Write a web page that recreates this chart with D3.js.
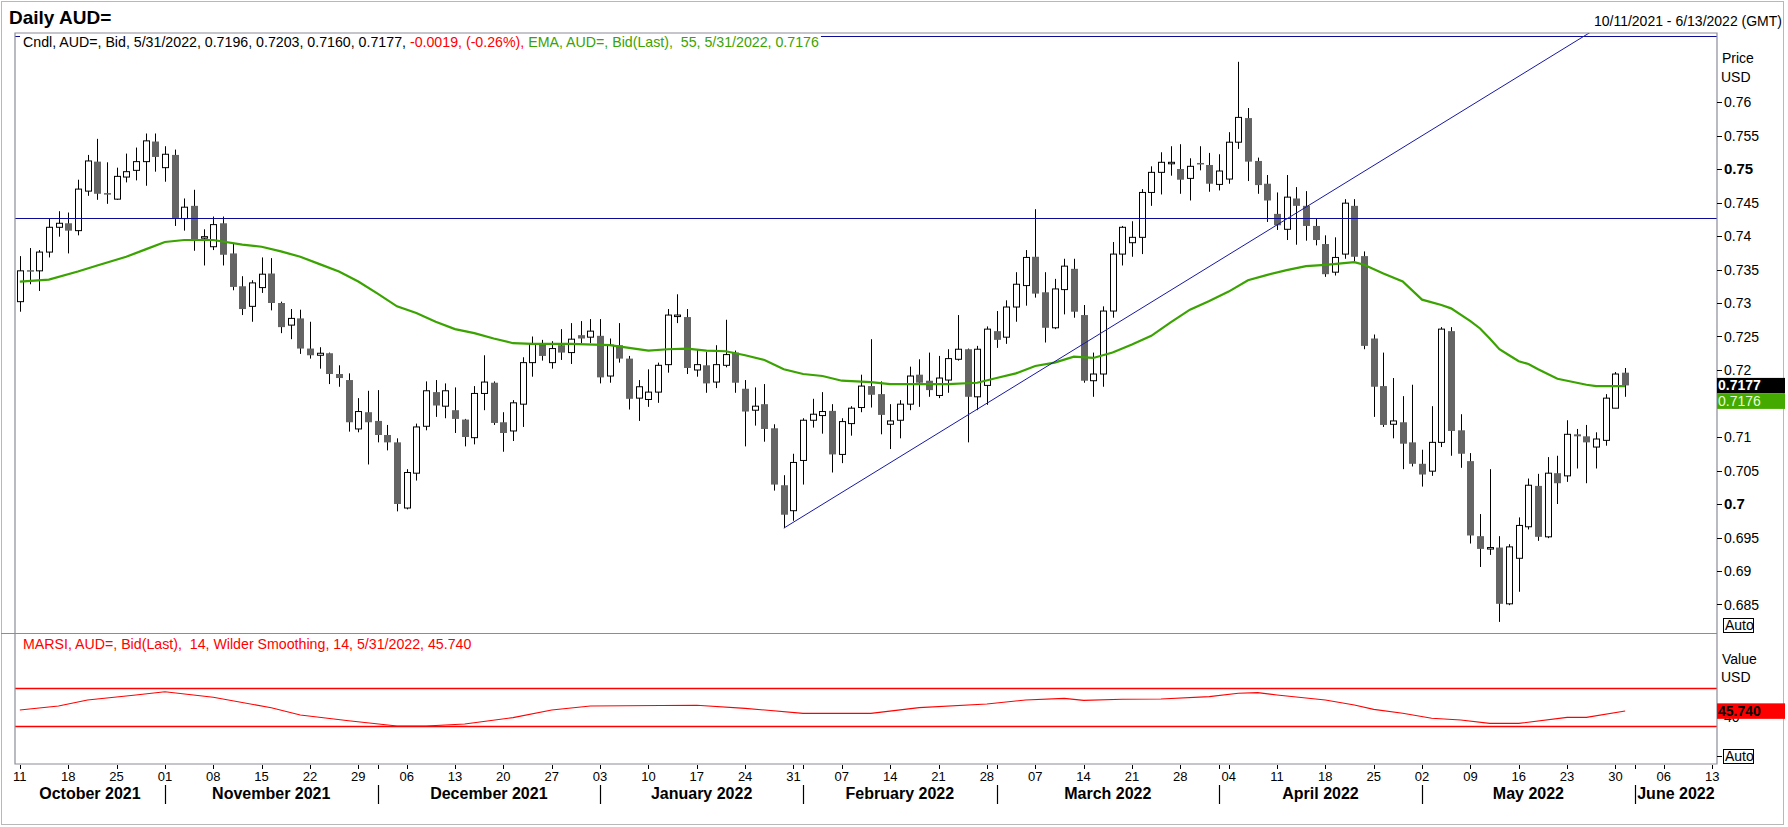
<!DOCTYPE html>
<html>
<head>
<meta charset="utf-8">
<script src="https://cdnjs.cloudflare.com/ajax/libs/d3/7.8.5/d3.min.js"></script>
<style>
body { margin: 0; background: #fff; }
svg { display: block; font-family: "Liberation Sans", Arial, sans-serif; }
text { white-space: pre; }
</style>
</head>
<body>
<svg id="chart" width="1788" height="827"></svg>
<script>
//Start: Data===

//Daily candles, AUD=, one bar per weekday starting 11 Oct 2021
var opens = [0.7302,0.7349,0.7348,0.7376,0.7413,0.7419,0.7408,0.7467,0.7511,0.7464,
  0.7455,0.7488,0.7498,0.7511,0.7541,0.7502,0.7521,0.7426,0.7445,0.7398,
  0.7384,0.7419,0.7374,0.7325,0.7295,0.7323,0.7344,0.7300,0.7267,0.7277,
  0.7232,0.7222,0.7225,0.7194,0.7185,0.7112,0.7137,0.7124,0.7103,0.7092,
  0.6994,0.7046,0.7116,0.7167,0.7146,0.7140,0.7126,0.7099,0.7165,0.7181,
  0.7122,0.7109,0.7149,0.7211,0.7239,0.7211,0.7237,0.7226,0.7252,0.7249,
  0.7251,0.7191,0.7237,0.7217,0.7158,0.7156,0.7167,0.7208,0.7281,0.7279,
  0.7200,0.7207,0.7182,0.7207,0.7226,0.7172,0.7140,0.7149,0.7113,0.7028,
  0.6990,0.7065,0.7125,0.7132,0.7139,0.7074,0.7120,0.7144,0.7176,0.7164,
  0.7119,0.7125,0.7149,0.7193,0.7184,0.7162,0.7185,0.7216,0.7231,0.7160,
  0.7177,0.7258,0.7249,0.7294,0.7326,0.7369,0.7316,0.7263,0.7320,0.7351,
  0.7282,0.7184,0.7194,0.7288,0.7373,0.7390,0.7398,0.7465,0.7495,0.7509,
  0.7500,0.7486,0.7509,0.7506,0.7477,0.7485,0.7540,0.7576,0.7512,0.7478,
  0.7433,0.7410,0.7456,0.7445,0.7415,0.7388,0.7346,0.7373,0.7445,0.7370,
  0.7247,0.7176,0.7119,0.7122,0.7092,0.7060,0.7049,0.7092,0.7258,0.7110,
  0.7064,0.6952,0.6934,0.6935,0.6851,0.6919,0.6966,0.7027,0.6951,0.7046,
  0.7042,0.7104,0.7101,0.7085,0.7095,0.7143,0.7196];

var highs = [0.7370,0.7382,0.7379,0.7426,0.7437,0.7435,0.7484,0.7521,0.7545,0.7510,
  0.7502,0.7523,0.7532,0.7553,0.7553,0.7534,0.7529,0.7456,0.7469,0.7410,
  0.7429,0.7429,0.7389,0.7340,0.7334,0.7368,0.7367,0.7302,0.7291,0.7290,
  0.7272,0.7234,0.7226,0.7207,0.7195,0.7158,0.7169,0.7170,0.7118,0.7098,
  0.7052,0.7120,0.7183,0.7185,0.7180,0.7174,0.7127,0.7176,0.7222,0.7183,
  0.7137,0.7155,0.7219,0.7250,0.7245,0.7243,0.7261,0.7270,0.7273,0.7276,
  0.7276,0.7247,0.7270,0.7221,0.7185,0.7201,0.7211,0.7291,0.7313,0.7291,
  0.7230,0.7227,0.7237,0.7275,0.7229,0.7185,0.7174,0.7179,0.7119,0.7043,
  0.7075,0.7128,0.7157,0.7167,0.7149,0.7128,0.7146,0.7193,0.7246,0.7183,
  0.7149,0.7155,0.7205,0.7216,0.7226,0.7221,0.7231,0.7282,0.7232,0.7236,
  0.7265,0.7288,0.7304,0.7346,0.7379,0.7440,0.7346,0.7336,0.7366,0.7366,
  0.7297,0.7226,0.7295,0.7391,0.7415,0.7422,0.7470,0.7504,0.7525,0.7534,
  0.7537,0.7516,0.7534,0.7524,0.7522,0.7555,0.7660,0.7591,0.7517,0.7491,
  0.7465,0.7491,0.7473,0.7467,0.7426,0.7401,0.7398,0.7455,0.7455,0.7377,
  0.7253,0.7226,0.7188,0.7161,0.7178,0.7081,0.7146,0.7264,0.7264,0.7134,
  0.7076,0.6985,0.7052,0.6952,0.6940,0.6980,0.7038,0.7045,0.7070,0.7072,
  0.7125,0.7112,0.7118,0.7107,0.7164,0.7197,0.7203];

var lows = [0.7287,0.7328,0.7318,0.7368,0.7399,0.7374,0.7401,0.7460,0.7454,0.7448,
  0.7454,0.7480,0.7483,0.7475,0.7496,0.7481,0.7415,0.7408,0.7378,0.7356,
  0.7379,0.7356,0.7319,0.7282,0.7272,0.7315,0.7289,0.7255,0.7246,0.7224,
  0.7217,0.7202,0.7179,0.7175,0.7108,0.7107,0.7059,0.7092,0.7080,0.6989,
  0.6992,0.7035,0.7110,0.7130,0.7128,0.7106,0.7086,0.7089,0.7140,0.7118,
  0.7078,0.7094,0.7115,0.7190,0.7214,0.7202,0.7215,0.7209,0.7240,0.7240,
  0.7180,0.7181,0.7211,0.7141,0.7124,0.7145,0.7151,0.7196,0.7270,0.7194,
  0.7190,0.7166,0.7173,0.7204,0.7166,0.7086,0.7117,0.7093,0.7020,0.6964,
  0.6975,0.7029,0.7114,0.7105,0.7047,0.7061,0.7102,0.7137,0.7144,0.7104,
  0.7082,0.7098,0.7140,0.7145,0.7160,0.7158,0.7166,0.7214,0.7092,0.7140,
  0.7148,0.7233,0.7239,0.7272,0.7296,0.7308,0.7241,0.7261,0.7283,0.7278,
  0.7181,0.7160,0.7175,0.7278,0.7356,0.7369,0.7373,0.7445,0.7462,0.7490,
  0.7463,0.7453,0.7498,0.7466,0.7468,0.7478,0.7530,0.7482,0.7463,0.7421,
  0.7409,0.7394,0.7387,0.7393,0.7386,0.7339,0.7341,0.7366,0.7362,0.7231,
  0.7130,0.7115,0.7098,0.7052,0.7056,0.7026,0.7042,0.7085,0.7072,0.7054,
  0.6941,0.6906,0.6924,0.6824,0.6849,0.6869,0.6962,0.6945,0.6949,0.7000,
  0.7033,0.7053,0.7031,0.7053,0.7087,0.7143,0.7160];

var closes = [0.7348,0.7347,0.7376,0.7413,0.7419,0.7408,0.7470,0.7512,0.7463,0.7462,
  0.7489,0.7496,0.7511,0.7542,0.7518,0.7522,0.7426,0.7443,0.7395,0.7399,
  0.7417,0.7372,0.7324,0.7291,0.7330,0.7343,0.7300,0.7264,0.7277,0.7232,
  0.7222,0.7225,0.7194,0.7188,0.7122,0.7138,0.7122,0.7103,0.7092,0.7000,
  0.7047,0.7115,0.7169,0.7147,0.7169,0.7127,0.7100,0.7165,0.7182,0.7121,
  0.7106,0.7151,0.7211,0.7239,0.7221,0.7232,0.7226,0.7246,0.7247,0.7258,
  0.7189,0.7237,0.7217,0.7157,0.7175,0.7167,0.7207,0.7282,0.7282,0.7203,
  0.7208,0.7180,0.7208,0.7223,0.7181,0.7138,0.7146,0.7112,0.7029,0.6984,
  0.7062,0.7125,0.7134,0.7138,0.7074,0.7123,0.7143,0.7176,0.7163,0.7133,
  0.7124,0.7149,0.7191,0.7181,0.7170,0.7188,0.7217,0.7231,0.7160,0.7231,
  0.7261,0.7245,0.7294,0.7328,0.7368,0.7314,0.7263,0.7321,0.7355,0.7287,
  0.7184,0.7194,0.7288,0.7373,0.7413,0.7398,0.7465,0.7495,0.7510,0.7510,
  0.7484,0.7504,0.7507,0.7478,0.7497,0.7540,0.7577,0.7511,0.7476,0.7453,
  0.7416,0.7458,0.7445,0.7415,0.7394,0.7343,0.7368,0.7449,0.7369,0.7236,
  0.7175,0.7118,0.7124,0.7090,0.7060,0.7044,0.7092,0.7261,0.7109,0.7075,
  0.6953,0.6933,0.6935,0.6851,0.6936,0.6968,0.7028,0.6951,0.7046,0.7031,
  0.7104,0.7101,0.7092,0.7097,0.7158,0.7194,0.7177];

var emaBars = [0,3,6,8,11,13,15,17,20,23,25,27,29,31,33,35,37,39,41,43,45,47,49,51,53,57,
  61,63,65,67,69,71,73,75,77,79,81,83,85,88,90,96,99,101,103,105,107,109,111,113,115,
  117,119,121,123,125,127,129,131,133,135,138,139,141,143,145,147,148,150,151,152,153,
  154,155,156,157,158,159,160,161,162,163,166];
var emaValues = [0.7332,0.7335,0.7347,0.7356,0.7369,0.7380,0.7391,0.7394,0.7394,0.7387,
  0.7384,0.7377,0.7369,0.7358,0.7347,0.7332,0.7314,0.7295,0.7285,0.7272,0.7261,0.7255,
  0.7247,0.7240,0.7239,0.7239,0.7237,0.7233,0.7229,0.7231,0.7232,0.7229,0.7228,0.7222,
  0.7215,0.7201,0.7194,0.7191,0.7184,0.7182,0.7179,0.7179,0.7181,0.7188,0.7195,0.7206,
  0.7211,0.7220,0.7218,0.7226,0.7238,0.7251,0.7271,0.7290,0.7303,0.7317,0.7334,0.7342,
  0.7349,0.7355,0.7357,0.7361,0.7357,0.7344,0.7332,0.7305,0.7297,0.7292,0.7273,0.7262,
  0.7247,0.7231,0.7222,0.7213,0.7209,0.7201,0.7194,0.7187,0.7184,0.7181,0.7178,0.7176,
  0.7176];

var rsiBars = [0,4,7,12,15,20,26,29,34,39,42,46,51,55,59,70,75,81,88,93,100,104,108,110,
  114,118,123,126,128,130,135,138,140,143,146,149,152,155,160,162,166];
var rsiValues = [46.8,51.1,57.4,62.6,66.1,60.2,49.3,41.6,35.6,30.0,30.0,32.1,38.8,46.8,
  51.1,51.8,48.6,43.3,43.3,49.3,53.2,57.4,59.1,57.0,58.1,58.4,60.9,64.4,65.1,62.6,57.4,
  52.1,47.5,43.4,38.1,36.3,32.8,32.8,39.1,39.1,45.74];

var priceTicks = [0.685,0.69,0.695,0.7,0.705,0.71,0.72,0.725,0.73,0.735,0.74,0.745,0.75,0.755,0.76];
var majorTicks = [0.7, 0.75];
var rsiTicks = [40];
var rsiBands = [30, 70];
var months = ["October 2021","November 2021","December 2021","January 2022","February 2022",
  "March 2022","April 2022","May 2022","June 2022"];

//drawn lines
var hLines = [0.7427, 0.7698];
var trendBars = [79, 166];
var trendValues = [0.6964, 0.7736];

//End: Data===

var svg = d3.select('#chart');
var pLeft = 15, pRight = 1717, pTop = 33, pMid = 633, pBottom = 764;
var frameColor = "#8c8c98";

var days = d3.timeDay.range(new Date(2021, 9, 11), new Date(2022, 5, 14))
  .filter(function(d) { return d.getDay() > 0 && d.getDay() < 6; });

var x = d3.scaleBand().domain(d3.range(days.length)).range([pLeft, pRight]);
var cx = function(i) { return x(i) + x.bandwidth() / 2; };
var y = d3.scaleLinear().domain([0.7, 0.76]).range([504, 102]);
var yr = d3.scaleLinear().domain([30, 70]).range([726, 688]);

var bars = d3.range(opens.length).map(function(i) {
  return {i: i, o: opens[i], h: highs[i], l: lows[i], c: closes[i]};
});

//outer window frame
svg.append('rect').attr('x', 1.5).attr('y', 1.5).attr('width', 1782).attr('height', 823)
  .attr('fill', 'none').attr('stroke', '#b8b8b8');

//header
svg.append('text').attr('x', 9).attr('y', 24).attr('font-size', 19).attr('font-weight', 'bold')
  .text('Daily AUD=');
svg.append('text').attr('x', 1782).attr('y', 26).attr('font-size', 14).attr('text-anchor', 'end')
  .text('10/11/2021 - 6/13/2022 (GMT)');

//clip for price panel
svg.append('clipPath').attr('id', 'pclip').append('rect')
  .attr('x', pLeft).attr('y', pTop).attr('width', pRight - pLeft).attr('height', pMid - pTop);

var price = svg.append('g').attr('clip-path', 'url(#pclip)');

//candles
var candle = price.selectAll('g.candle').data(bars).enter().append('g').attr('class', 'candle');
candle.append('line')
  .attr('x1', function(d) { return Math.round(cx(d.i)) + 0.5; })
  .attr('x2', function(d) { return Math.round(cx(d.i)) + 0.5; })
  .attr('y1', function(d) { return y(d.h); })
  .attr('y2', function(d) { return y(d.l); })
  .attr('stroke', '#000').attr('stroke-width', 1);
candle.append('rect')
  .attr('x', function(d) { return d.c >= d.o ? Math.round(cx(d.i)) - 2.5 : Math.round(cx(d.i)) - 3; })
  .attr('width', function(d) { return d.c >= d.o ? 6 : 7; })
  .attr('y', function(d) { return y(Math.max(d.o, d.c)); })
  .attr('height', function(d) { return Math.max(1.5, Math.abs(y(d.o) - y(d.c))); })
  .attr('fill', function(d) { return d.c >= d.o ? '#fff' : '#646464'; })
  .attr('stroke', function(d) { return d.c >= d.o ? '#000' : 'none'; })
  .attr('stroke-width', 1);

//EMA
var emaLine = d3.line()
  .x(function(d) { return cx(d[0]); })
  .y(function(d) { return y(d[1]); });
price.append('path').datum(d3.zip(emaBars, emaValues))
  .attr('d', emaLine).attr('fill', 'none').attr('stroke', '#3aa300').attr('stroke-width', 2.2);

//horizontal lines and the trend line
price.selectAll('line.h').data(hLines).enter().append('line')
  .attr('x1', pLeft).attr('x2', pRight)
  .attr('y1', function(d) { return Math.round(y(d)) + 0.5; })
  .attr('y2', function(d) { return Math.round(y(d)) + 0.5; })
  .attr('stroke', '#0b0b98').attr('stroke-width', 1.2);
price.append('line')
  .attr('x1', cx(trendBars[0])).attr('y1', y(trendValues[0]))
  .attr('x2', cx(trendBars[1])).attr('y2', y(trendValues[1]))
  .attr('stroke', '#1717a6').attr('stroke-width', 1);

//legend line with white background
var legend = svg.append('text').attr('x', 23).attr('y', 47).attr('font-size', 14.2);
legend.append('tspan').attr('fill', '#000').text('Cndl, AUD=, Bid, 5/31/2022, 0.7196, 0.7203, 0.7160, 0.7177, ');
legend.append('tspan').attr('fill', '#f00').text('-0.0019, (-0.26%), ');
legend.append('tspan').attr('fill', '#3aa300').text('EMA, AUD=, Bid(Last),  55, 5/31/2022, 0.7176');
var lb = legend.node().getBBox();
svg.insert('rect', function() { return legend.node(); })
  .attr('x', 20).attr('y', pTop + 1).attr('width', lb.x + lb.width + 2 - 20).attr('height', 18)
  .attr('fill', '#fff');

//RSI panel
svg.selectAll('line.band').data(rsiBands).enter().append('line')
  .attr('x1', pLeft).attr('x2', pRight)
  .attr('y1', function(d) { return Math.round(yr(d)) + 0.5; })
  .attr('y2', function(d) { return Math.round(yr(d)) + 0.5; })
  .attr('stroke', '#f00').attr('stroke-width', 1.4);
var rsiLine = d3.line()
  .x(function(d) { return cx(d[0]); })
  .y(function(d) { return yr(d[1]); });
svg.append('path').datum(d3.zip(rsiBars, rsiValues))
  .attr('d', rsiLine).attr('fill', 'none').attr('stroke', '#f00').attr('stroke-width', 1.1);
svg.append('text').attr('x', 23).attr('y', 649).attr('font-size', 14.2).attr('fill', '#f00')
  .text('MARSI, AUD=, Bid(Last),  14, Wilder Smoothing, 14, 5/31/2022, 45.740');

//frames
svg.append('path')
  .attr('d', 'M' + pLeft + ',' + pMid + 'V' + pTop + 'H' + pRight + 'V' + pBottom + 'H' + pLeft + 'V' + pMid)
  .attr('fill', 'none').attr('stroke', frameColor).attr('stroke-width', 1.2);
svg.append('line').attr('x1', 1).attr('x2', pRight).attr('y1', pMid + 0.5).attr('y2', pMid + 0.5)
  .attr('stroke', frameColor).attr('stroke-width', 1.2);

//Price axis
var pax = svg.append('g');
pax.selectAll('line').data(priceTicks).enter().append('line')
  .attr('x1', pRight).attr('x2', pRight + 5)
  .attr('y1', function(d) { return Math.round(y(d)) + 0.5; })
  .attr('y2', function(d) { return Math.round(y(d)) + 0.5; })
  .attr('stroke', '#000');
pax.selectAll('text').data(priceTicks).enter().append('text')
  .attr('x', pRight + 7).attr('y', function(d) { return y(d) + 5; })
  .attr('font-size', function(d) { return majorTicks.indexOf(d) >= 0 ? 15 : 14; })
  .attr('font-weight', function(d) { return majorTicks.indexOf(d) >= 0 ? 'bold' : 'normal'; })
  .text(function(d) { return d3.format('')(+d.toFixed(3)); });
svg.append('text').attr('x', pRight + 5).attr('y', 63).attr('font-size', 14).text('Price');
svg.append('text').attr('x', pRight + 4).attr('y', 82).attr('font-size', 14).text('USD');

//last value boxes
var lastClose = closes[closes.length - 1];
svg.append('rect').attr('x', pRight).attr('y', y(lastClose) - 7.5)
  .attr('width', 68).attr('height', 15.5).attr('fill', '#000');
svg.append('text').attr('x', pRight + 1).attr('y', y(lastClose) + 5)
  .attr('font-size', 14).attr('font-weight', 'bold').attr('fill', '#fff')
  .text(lastClose.toFixed(4));
var lastEma = emaValues[emaValues.length - 1];
svg.append('rect').attr('x', pRight).attr('y', y(lastClose) + 8)
  .attr('width', 68).attr('height', 15.5).attr('fill', '#44aa00');
svg.append('text').attr('x', pRight + 1).attr('y', y(lastClose) + 21)
  .attr('font-size', 14).attr('fill', '#e6ffd8').text(lastEma.toFixed(4));

//Auto buttons
function autoBox(yy) {
  svg.append('rect').attr('x', pRight + 6.5).attr('y', yy - 6.5).attr('width', 30).attr('height', 14)
    .attr('fill', '#fff').attr('stroke', '#000');
  svg.append('text').attr('x', pRight + 8).attr('y', yy + 5).attr('font-size', 14).text('Auto');
}
autoBox(625);
svg.append('line').attr('x1', pRight).attr('x2', pRight + 5).attr('y1', 756.5).attr('y2', 756.5).attr('stroke', '#000');
autoBox(756);

//RSI axis, the 40 label sits half under the value box like in the terminal
svg.selectAll('text.rt').data(rsiTicks).enter().append('text')
  .attr('x', pRight + 7).attr('y', function(d) { return yr(d) + 5; }).attr('font-size', 14)
  .text(function(d) { return d; });
svg.append('text').attr('x', pRight + 5).attr('y', 664).attr('font-size', 14).text('Value');
svg.append('text').attr('x', pRight + 4).attr('y', 682).attr('font-size', 14).text('USD');
var lastRsi = rsiValues[rsiValues.length - 1];
svg.append('rect').attr('x', pRight).attr('y', yr(lastRsi) - 7.7).attr('width', 68).attr('height', 15.5)
  .attr('fill', '#f00');
svg.append('text').attr('x', pRight + 1).attr('y', yr(lastRsi) + 5).attr('font-size', 14)
  .attr('font-weight', 'bold').text(lastRsi.toFixed(3));

//Date axis
var mondays = d3.range(days.length).filter(function(i) { return days[i].getDay() == 1; });
var firsts = d3.range(1, days.length).filter(function(i) { return days[i].getMonth() != days[i - 1].getMonth(); });
var ticks = mondays.concat(firsts.filter(function(i) { return mondays.indexOf(i) < 0; }));
svg.selectAll('line.dt').data(ticks).enter().append('line')
  .attr('x1', function(i) { return Math.round(cx(i)) + 0.5; })
  .attr('x2', function(i) { return Math.round(cx(i)) + 0.5; })
  .attr('y1', pBottom + 1).attr('y2', pBottom + 5).attr('stroke', '#000');
svg.selectAll('text.dt').data(mondays).enter().append('text')
  .attr('x', function(i) { return cx(i); }).attr('y', 781).attr('font-size', 13)
  .attr('text-anchor', 'middle')
  .text(function(i) { return d3.timeFormat('%d')(days[i]); });
svg.selectAll('line.ms').data(firsts).enter().append('line')
  .attr('x1', function(i) { return Math.round(cx(i)) + 0.5; })
  .attr('x2', function(i) { return Math.round(cx(i)) + 0.5; })
  .attr('y1', 785).attr('y2', 804).attr('stroke', '#000').attr('stroke-width', 1.2);
var edges = [pLeft].concat(firsts.map(cx)).concat([pRight]);
svg.selectAll('text.month').data(months).enter().append('text')
  .attr('x', function(d, k) { return (edges[k] + edges[k + 1]) / 2; })
  .attr('y', 799).attr('font-size', 16).attr('font-weight', 'bold').attr('text-anchor', 'middle')
  .text(function(d) { return d; });
</script>
</body>
</html>
